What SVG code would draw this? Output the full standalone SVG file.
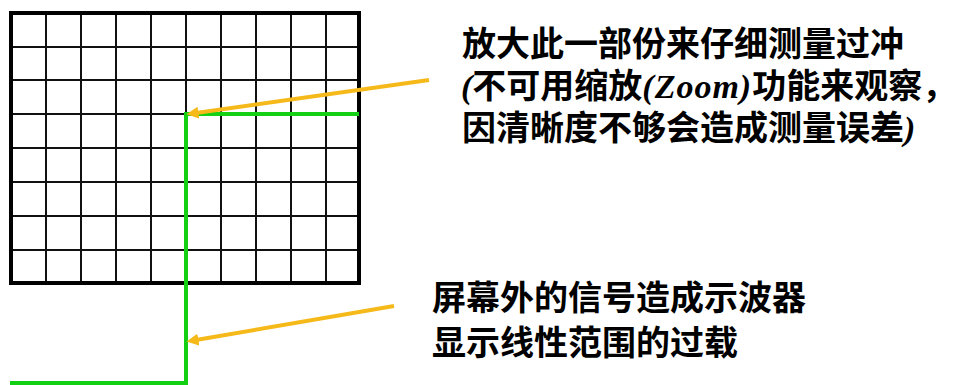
<svg xmlns="http://www.w3.org/2000/svg" width="955" height="385" viewBox="0 0 955 385">
<style>
.grid{stroke:#111;stroke-width:2;fill:none}
.frame{stroke:#000;stroke-width:4;fill:none}
.sig{stroke:#14d014;stroke-width:4;fill:none}
.arr{stroke:#f6b91a;stroke-width:4;fill:none}
.t{font-family:"Noto Sans CJK SC","Noto Sans",sans-serif;font-size:34px;font-weight:bold;fill:#000}
.it{font-family:"Liberation Serif",serif;font-style:italic;font-weight:bold}
</style>
<defs>
<marker id="ah" viewBox="0 0 10 10" refX="2" refY="5" markerWidth="3" markerHeight="3" orient="auto" markerUnits="strokeWidth">
<path d="M0,0 L10,5 L0,10 Z" fill="#f6b91a"/>
</marker>
</defs>
<g id="screen">
<path class="grid" d="M46,13V283M81,13V283M116,13V283M151,13V283M186,13V283M221,13V283M256,13V283M291,13V283M326,13V283M11,47H359M11,80H359M11,114H359M11,148H359M11,182H359M11,216H359M11,250H359"/>
<rect class="frame" x="11" y="13" width="348" height="270"/>
</g>
<g id="signal">
<path class="sig" d="M359,114H186V383H10"/>
</g>
<g id="connectors">
<line class="arr" x1="429" y1="80" x2="196" y2="113" marker-end="url(#ah)"/>
<line class="arr" x1="394" y1="306" x2="196" y2="340" marker-end="url(#ah)"/>
</g>
<g id="label-zoom">
<text class="t" x="462" y="56">放大此一部份来仔细测量过冲</text>
<text class="t" x="461" y="98"><tspan class="it">(</tspan>不可用缩放<tspan class="it" letter-spacing="1">(Zoom)</tspan>功能来观察，</text>
<text class="t" x="462" y="140">因清晰度不够会造成测量误差<tspan class="it">)</tspan></text>
</g>
<g id="label-overload">
<text class="t" x="432" y="310">屏幕外的信号造成示波器</text>
<text class="t" x="432" y="355">显示线性范围的过载</text>
</g>
</svg>
